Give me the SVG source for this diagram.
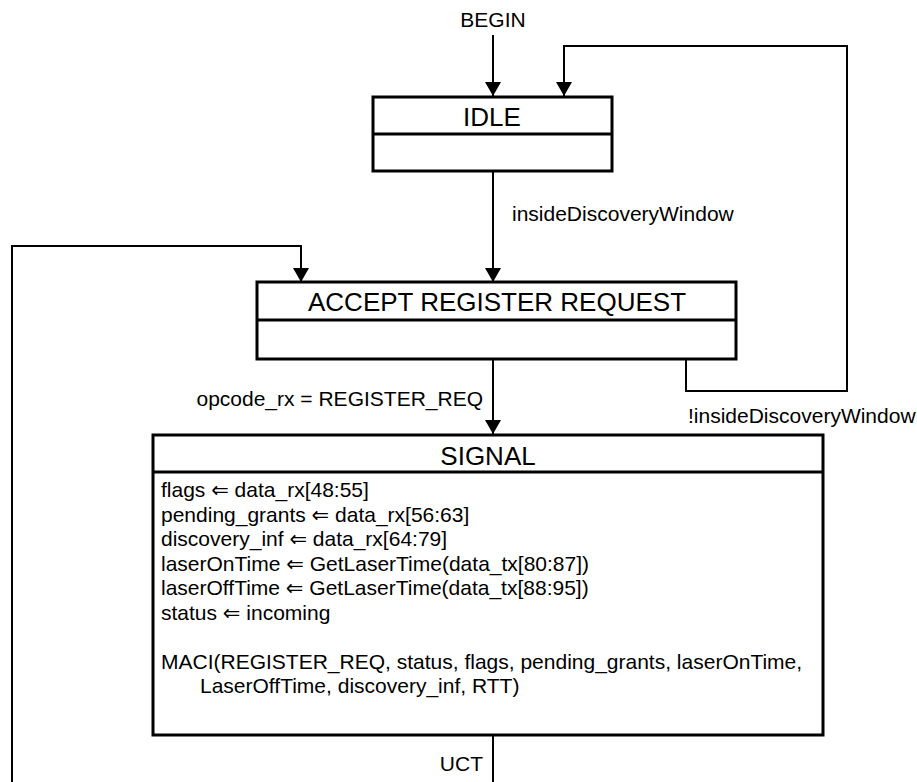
<svg xmlns="http://www.w3.org/2000/svg" width="917" height="782" viewBox="0 0 917 782">
<defs>
<marker id="arr" viewBox="0 0 14 16" refX="14" refY="8" markerWidth="14" markerHeight="16" markerUnits="userSpaceOnUse" orient="auto">
<path d="M0 0 L14 8 L0 16 Z" fill="#000"/>
</marker>
<style>
text{font-family:"Liberation Sans",Arial,"DejaVu Sans",sans-serif;fill:#000}
.st{font-size:26px;text-anchor:middle}
.lb{font-size:21px}
.bd{font-size:21px}
.box{fill:#fff;stroke:#000;stroke-width:3}
.div{stroke:#000;stroke-width:3}
.cn{fill:none;stroke:#000;stroke-width:2}
</style>
</defs>
<rect width="917" height="782" fill="#fff"/>
<g id="connectors">
<path class="cn" d="M493 35 V96" marker-end="url(#arr)"/>
<path class="cn" d="M686 359 V391 H847 V46 H564 V96" marker-end="url(#arr)"/>
<path class="cn" d="M493 171 V282" marker-end="url(#arr)"/>
<path class="cn" d="M493 359 V434" marker-end="url(#arr)"/>
<path class="cn" d="M493 735 V790 H12 V246 H301 V282" marker-end="url(#arr)"/>
<text class="lb" x="493" y="27" text-anchor="middle">BEGIN</text>
<text class="lb" x="512" y="221">insideDiscoveryWindow</text>
<text class="lb" x="483" y="406" text-anchor="end">opcode_rx = REGISTER_REQ</text>
<text class="lb" x="688" y="423">!insideDiscoveryWindow</text>
<text class="lb" x="483" y="771" text-anchor="end">UCT</text>
</g>
<g id="idle">
<rect class="box" x="373" y="97" width="239" height="74"/>
<line class="div" x1="373" y1="134" x2="612" y2="134"/>
<text class="st" x="492" y="126">IDLE</text>
</g>
<g id="accept_register_request">
<rect class="box" x="257" y="282" width="479" height="77"/>
<line class="div" x1="257" y1="320" x2="736" y2="320"/>
<text class="st" x="497" y="311">ACCEPT REGISTER REQUEST</text>
</g>
<g id="signal">
<rect class="box" x="153" y="435" width="670" height="300"/>
<line class="div" x1="153" y1="472" x2="823" y2="472"/>
<text class="st" x="488" y="465">SIGNAL</text>
<text class="bd" x="161" y="497">flags ⇐ data_rx[48:55]</text>
<text class="bd" x="161" y="521.5">pending_grants ⇐ data_rx[56:63]</text>
<text class="bd" x="161" y="546">discovery_inf ⇐ data_rx[64:79]</text>
<text class="bd" x="161" y="570.5">laserOnTime ⇐ GetLaserTime(data_tx[80:87])</text>
<text class="bd" x="161" y="595">laserOffTime ⇐ GetLaserTime(data_tx[88:95])</text>
<text class="bd" x="161" y="619.5">status ⇐ incoming</text>
<text class="bd" x="161" y="668.5">MACI(REGISTER_REQ, status, flags, pending_grants, laserOnTime,</text>
<text class="bd" x="200" y="693">LaserOffTime, discovery_inf, RTT)</text>
</g>
</svg>
